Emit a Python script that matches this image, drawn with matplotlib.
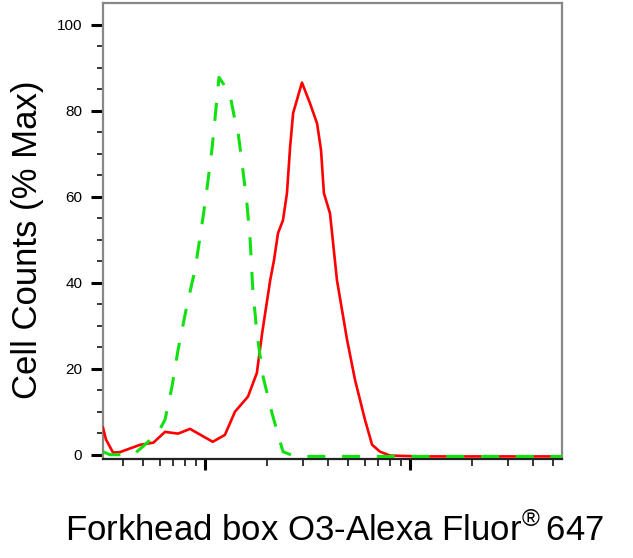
import matplotlib
matplotlib.use("Agg")
import matplotlib.pyplot as plt
from matplotlib.ticker import FixedLocator, NullFormatter

plt.rcParams["font.family"] = ["Liberation Sans", "DejaVu Sans"]
plt.rcParams["mathtext.fontset"] = "custom"
plt.rcParams["mathtext.rm"] = "Liberation Sans"
plt.rcParams["lines.scale_dashes"] = False

# stained sample (red, solid)
red_x = [3.18, 3.29, 3.56, 3.85, 4.82, 5.6, 6.38, 7.39, 8.45, 10.9, 12.5,
         14.0, 16.2, 17.9, 19.0, 20.8, 21.7, 22.7, 24.0, 25.1, 26.0, 26.9,
         29.7, 32.5, 35.2, 36.8, 38.0, 40.7, 44.0, 49.3, 53.9, 60.3, 65.3,
         71.4, 79.8, 112, 200, 551]
red_y = [6.3, 3.5, 0.5, 0.6, 2.3, 2.8, 5.3, 4.9, 6.0, 3.0, 4.6,
         10.0, 13.5, 19.0, 28.3, 40.6, 45.2, 51.5, 54.5, 60.8, 71.5, 79.4,
         86.5, 81.7, 77.0, 70.8, 60.8, 56.1, 40.6, 26.7, 17.4, 8.1, 2.3,
         0.7, -0.2, -0.4, -0.4, -0.4]

# isotype control (green, dashed)
green_x = [3.18, 3.44, 4.47, 4.98, 5.89, 6.38, 6.90, 7.39, 8.17, 8.94, 9.78,
           10.2, 10.8, 11.2, 11.7, 13.2, 14.0, 14.5, 15.1, 16.0, 16.6, 17.1,
           17.9, 19.2, 21.2, 24.0, 27.5, 551]
green_y = [0.7, 0.0, 0.0, 1.9, 5.1, 8.1, 15.8, 24.4, 34.8, 43.0, 55.2,
           61.5, 70.8, 78.4, 87.7, 84.0, 77.7, 74.9, 68.4, 58.5, 49.9, 38.5,
           28.3, 18.1, 9.7, 0.7, -0.4, -0.4]

y_major = [0, 20, 40, 60, 80, 100]
y_minor = [5, 10, 15, 25, 30, 35, 45, 50, 55, 65, 70, 75, 85, 90, 95]
x_major = [10, 100]
x_minor = [4, 5, 6, 7, 8, 9, 20, 30, 40, 50, 60, 70, 80, 90, 200, 300, 400, 500]

fig = plt.figure(figsize=(6.33, 5.58), dpi=100)
ax = fig.add_axes([103 / 633, 1 - 459 / 558, 459 / 633, 456 / 558])

ax.plot(red_x, red_y, color="#ff0000", lw=1.9, zorder=3)
ax.plot(green_x, green_y, color="#11e011", lw=2.2, dashes=(13, 12), zorder=4)

ax.set_xscale("log")
ax.set_xlim(3.18, 551)
ax.set_ylim(-1, 105)

ax.xaxis.set_major_locator(FixedLocator(x_major))
ax.xaxis.set_minor_locator(FixedLocator(x_minor))
ax.xaxis.set_major_formatter(NullFormatter())
ax.xaxis.set_minor_formatter(NullFormatter())
ax.yaxis.set_major_locator(FixedLocator(y_major))
ax.yaxis.set_minor_locator(FixedLocator(y_minor))

ax.tick_params(axis="y", which="major", length=9, width=2.2, labelsize=11, pad=6)
ax.tick_params(axis="y", which="minor", length=4, width=1.1)
ax.tick_params(axis="x", which="major", length=8, width=2.2)
ax.tick_params(axis="x", which="minor", length=5, width=1.1)

for s in ["left", "top", "right"]:
    ax.spines[s].set_color("#888888")
    ax.spines[s].set_linewidth(1.6)
ax.spines["bottom"].set_color("#222222")
ax.spines["bottom"].set_linewidth(1.6)

fig.text(28 / 633, 1 - 240 / 558, "Cell Counts (% Max)", rotation=90,
         ha="center", va="center", fontsize=25)
fig.text(334 / 633, 1 - 541 / 558, r"Forkhead box O3-Alexa Fluor$^{\rm ®}\,$647",
         ha="center", va="baseline", fontsize=25)

fig.savefig("out.png", dpi=100)
